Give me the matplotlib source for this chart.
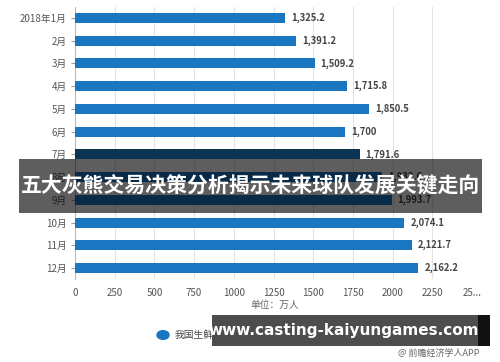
import matplotlib.pyplot as plt
import matplotlib.patches as patches
import numpy as np

plt.rcParams['font.family'] = ['Noto Sans CJK SC', 'DejaVu Sans']

# Data
months = ["2018年1月", "2月", "3月", "4月", "5月", "6月",
          "7月", "8月", "9月", "10月", "11月", "12月"]
users = [1325.2, 1391.2, 1509.2, 1715.8, 1850.5, 1700,
         1791.6, 1932.6, 1993.7, 2074.1, 2121.7, 2162.2]
labels = ["1,325.2", "1,391.2", "1,509.2", "1,715.8", "1,850.5", "1,700",
          "1,791.6", "1,932.6", "1,993.7", "2,074.1", "2,121.7", "2,162.2"]
xticks = [0, 250, 500, 750, 1000, 1250, 1500, 1750, 2000, 2250]

bar_color = "#1a76c0"
# the 7月 bar looks darkened by the overlay in the reference
colors = [bar_color] * 6 + ["#0b3352"] + [bar_color] * 5

fig = plt.figure(figsize=(5, 3.62), dpi=100)
ax = fig.add_axes([0.15, 0.228, 0.794, 0.754])

y = np.arange(len(months))
ax.barh(y, users, height=0.44, color=colors, zorder=3)
for yi, v, lab in zip(y, users, labels):
    ax.text(v + 38, yi, lab, va="center", ha="left", fontsize=6.8,
            fontweight="bold", color="#444444", zorder=4)

ax.set_ylim(len(months) - 0.5, -0.5)
ax.set_xlim(0, 2500)
ax.set_yticks(y)
ax.set_yticklabels(months, fontsize=7, color="#555555")
ax.set_xticks(xticks + [2500])
ax.set_xticklabels([str(t) for t in xticks] + ["25..."], fontsize=7, color="#555555")
ax.tick_params(axis="y", length=3, color="#999999", pad=3)
ax.tick_params(axis="x", length=0, pad=6)
ax.grid(axis="x", color="#e3e3e3", linewidth=0.8, zorder=0)
for s in ["top", "right", "bottom"]:
    ax.spines[s].set_visible(False)
ax.spines["left"].set_color("#bbbbbb")
ax.spines["left"].set_linewidth(0.8)

# unit label and legend
fig.text(0.5, 1 - 305 / 362, "单位：万人", fontsize=7, color="#666666",
         ha="left", va="center")
fig.patches.append(patches.Circle((163 / 500, 1 - 335 / 362), 0.012,
                                  transform=fig.transFigure, color=bar_color,
                                  figure=fig))
fig.text(175 / 500, 1 - 335 / 362, "我国生鲜电商用户规模（万人）", fontsize=7,
         color="#444444", ha="left", va="center")
fig.text(480 / 500, 1 - 353 / 362, "@ 前瞻经济学人APP", fontsize=6.5,
         color="#666666", ha="right", va="center")

# overlay banner
fig.patches.append(patches.Rectangle((19 / 500, 1 - 213 / 362), 463 / 500, 54 / 362,
                                     transform=fig.transFigure, facecolor="black",
                                     edgecolor="none", alpha=0.63, zorder=10,
                                     figure=fig))
fig.text(250 / 500, 1 - 186 / 362, "五大灰熊交易决策分析揭示未来球队发展关键走向",
         fontsize=15, fontweight="bold", color="white", ha="center", va="center",
         zorder=11)

# watermark box
fig.patches.append(patches.Rectangle((212 / 500, 1 - 346 / 362), 266 / 500, 31 / 362,
                                     transform=fig.transFigure, facecolor="#4d4d4d",
                                     edgecolor="none", zorder=10, figure=fig))
fig.patches.append(patches.Rectangle((478 / 500, 1 - 346 / 362), 12 / 500, 31 / 362,
                                     transform=fig.transFigure, facecolor="#111111",
                                     edgecolor="none", zorder=10, figure=fig))
fig.text(344 / 500, 1 - 331 / 362, "www.casting-kaiyungames.com", fontsize=11,
         fontweight="bold", color="white", ha="center", va="center",
         family="DejaVu Sans", zorder=11)

fig.savefig("out.png", dpi=100)
